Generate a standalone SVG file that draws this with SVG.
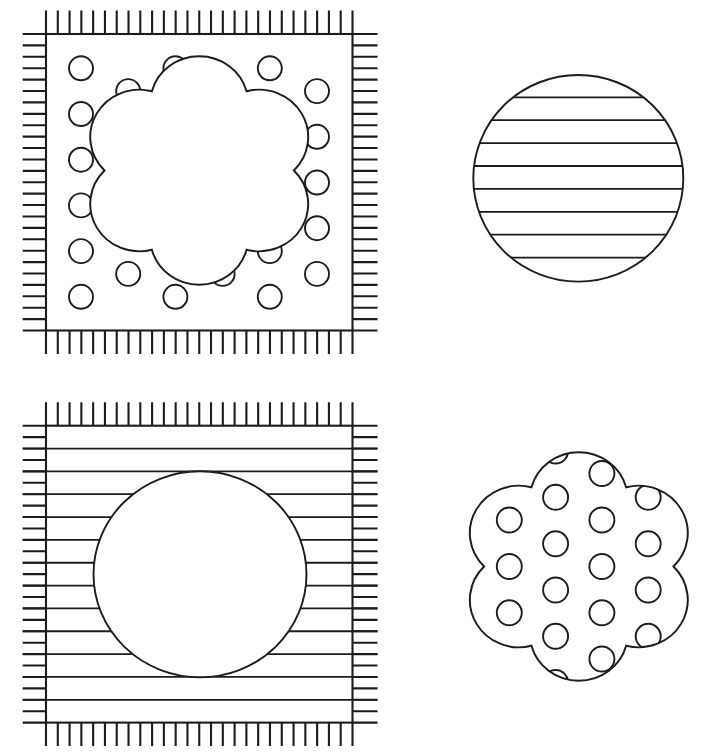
<svg xmlns="http://www.w3.org/2000/svg" xmlns:xlink="http://www.w3.org/1999/xlink" width="720" height="752" viewBox="0 0 720 752">
<style>
.ln{fill:none;stroke:#1c1c1c;stroke-width:2.1}
.sh{fill:#fff;stroke:#1c1c1c;stroke-width:1.9}
.dot{fill:none;stroke:#1c1c1c;stroke-width:1.9}
.hl{fill:none;stroke:#1c1c1c;stroke-width:1.8}
</style>
<defs>
<path id="cloud" d="M-45.75,-79.24A47.4,47.4 0 0 1 45.75,-79.24A47.4,47.4 0 0 1 91.5,0A47.4,47.4 0 0 1 45.75,79.24A47.4,47.4 0 0 1 -45.75,79.24A47.4,47.4 0 0 1 -91.5,0A47.4,47.4 0 0 1 -45.75,-79.24Z"/>
<clipPath id="clipCloud">
<path transform="translate(578.8,566.5) scale(1.035,1)" d="M-45.75,-79.24A47.4,47.4 0 0 1 45.75,-79.24A47.4,47.4 0 0 1 91.5,0A47.4,47.4 0 0 1 45.75,79.24A47.4,47.4 0 0 1 -45.75,79.24A47.4,47.4 0 0 1 -91.5,0A47.4,47.4 0 0 1 -45.75,-79.24Z"/>
</clipPath>
<clipPath id="clipCircle">
<ellipse cx="578.3" cy="178.3" rx="105" ry="103.3"/>
</clipPath>
</defs>
<rect width="720" height="752" fill="#fff"/>

<g id="panel-top-left">
<rect class="ln" x="46" y="34" width="306.5" height="296.5"/>
<path class="ln" d="M46 10.5V34M57.79 10.5V34M69.58 10.5V34M81.36 10.5V34M93.15 10.5V34M104.94 10.5V34M116.73 10.5V34M128.52 10.5V34M140.3 10.5V34M152.09 10.5V34M163.88 10.5V34M175.67 10.5V34M187.46 10.5V34M199.24 10.5V34M211.03 10.5V34M222.82 10.5V34M234.61 10.5V34M246.4 10.5V34M258.18 10.5V34M269.97 10.5V34M281.76 10.5V34M293.55 10.5V34M305.34 10.5V34M317.12 10.5V34M328.91 10.5V34M340.7 10.5V34M352.5 10.5V34"/>
<path class="ln" d="M46 330.5V354M57.79 330.5V354M69.58 330.5V354M81.36 330.5V354M93.15 330.5V354M104.94 330.5V354M116.73 330.5V354M128.52 330.5V354M140.3 330.5V354M152.09 330.5V354M163.88 330.5V354M175.67 330.5V354M187.46 330.5V354M199.24 330.5V354M211.03 330.5V354M222.82 330.5V354M234.61 330.5V354M246.4 330.5V354M258.18 330.5V354M269.97 330.5V354M281.76 330.5V354M293.55 330.5V354M305.34 330.5V354M317.12 330.5V354M328.91 330.5V354M340.7 330.5V354M352.5 330.5V354"/>
<path class="ln" d="M22.7 34H46M22.7 45.4H46M22.7 56.81H46M22.7 68.21H46M22.7 79.62H46M22.7 91.02H46M22.7 102.42H46M22.7 113.83H46M22.7 125.23H46M22.7 136.64H46M22.7 148.04H46M22.7 159.44H46M22.7 170.85H46M22.7 182.25H46M22.7 193.66H46M22.7 205.06H46M22.7 216.46H46M22.7 227.87H46M22.7 239.27H46M22.7 250.68H46M22.7 262.08H46M22.7 273.48H46M22.7 284.89H46M22.7 296.29H46M22.7 307.7H46M22.7 319.1H46M22.7 330.5H46"/>
<path class="ln" d="M352.5 34H377.5M352.5 45.4H377.5M352.5 56.81H377.5M352.5 68.21H377.5M352.5 79.62H377.5M352.5 91.02H377.5M352.5 102.42H377.5M352.5 113.83H377.5M352.5 125.23H377.5M352.5 136.64H377.5M352.5 148.04H377.5M352.5 159.44H377.5M352.5 170.85H377.5M352.5 182.25H377.5M352.5 193.66H377.5M352.5 205.06H377.5M352.5 216.46H377.5M352.5 227.87H377.5M352.5 239.27H377.5M352.5 250.68H377.5M352.5 262.08H377.5M352.5 273.48H377.5M352.5 284.89H377.5M352.5 296.29H377.5M352.5 307.7H377.5M352.5 319.1H377.5M352.5 330.5H377.5"/>
<g id="dots-top-left" class="dot">
<circle cx="81" cy="68.3" r="12"/><circle cx="81" cy="114" r="12"/><circle cx="81" cy="159.7" r="12"/><circle cx="81" cy="205.4" r="12"/><circle cx="81" cy="251.1" r="12"/><circle cx="81" cy="296.8" r="12"/>
<circle cx="128.2" cy="91.1" r="12"/><circle cx="128.2" cy="136.8" r="12"/><circle cx="128.2" cy="182.5" r="12"/><circle cx="128.2" cy="228.2" r="12"/><circle cx="128.2" cy="273.9" r="12"/>
<circle cx="175.4" cy="68.3" r="12"/><circle cx="175.4" cy="296.8" r="12"/>
<circle cx="222.6" cy="273.9" r="12"/>
<circle cx="269.8" cy="68.3" r="12"/><circle cx="269.8" cy="114" r="12"/><circle cx="269.8" cy="205.4" r="12"/><circle cx="269.8" cy="251.1" r="12"/><circle cx="269.8" cy="296.8" r="12"/>
<circle cx="317" cy="91.1" r="12"/><circle cx="317" cy="136.8" r="12"/><circle cx="317" cy="182.5" r="12"/><circle cx="317" cy="228.2" r="12"/><circle cx="317" cy="273.9" r="12"/>
</g>
<use xlink:href="#cloud" href="#cloud" class="sh" vector-effect="non-scaling-stroke" transform="translate(199.2,170.5) scale(1.035,1)"/>
</g>

<g id="panel-top-right">
<g clip-path="url(#clipCircle)" class="hl">
<path d="M470,97.3H690M470,120.2H690M470,143.1H690M470,166H690M470,188.9H690M470,211.8H690M470,234.7H690M470,257.6H690"/>
</g>
<ellipse class="dot" cx="578.3" cy="178.3" rx="105" ry="103.3"/>
</g>

<g id="panel-bottom-left">
<path class="hl" d="M22.7,448.54H377.5M22.7,471.38H377.5M22.7,494.22H377.5M22.7,517.06H377.5M22.7,539.9H377.5M22.7,562.74H377.5M22.7,585.58H377.5M22.7,608.42H377.5M22.7,631.26H377.5M22.7,654.1H377.5M22.7,676.94H377.5M22.7,699.78H377.5"/>
<rect class="ln" x="46" y="425.7" width="306.5" height="296.9"/>
<path class="ln" d="M46 402.3V425.7M57.79 402.3V425.7M69.58 402.3V425.7M81.36 402.3V425.7M93.15 402.3V425.7M104.94 402.3V425.7M116.73 402.3V425.7M128.52 402.3V425.7M140.3 402.3V425.7M152.09 402.3V425.7M163.88 402.3V425.7M175.67 402.3V425.7M187.46 402.3V425.7M199.24 402.3V425.7M211.03 402.3V425.7M222.82 402.3V425.7M234.61 402.3V425.7M246.4 402.3V425.7M258.18 402.3V425.7M269.97 402.3V425.7M281.76 402.3V425.7M293.55 402.3V425.7M305.34 402.3V425.7M317.12 402.3V425.7M328.91 402.3V425.7M340.7 402.3V425.7M352.5 402.3V425.7"/>
<path class="ln" d="M46 722.6V746M57.79 722.6V746M69.58 722.6V746M81.36 722.6V746M93.15 722.6V746M104.94 722.6V746M116.73 722.6V746M128.52 722.6V746M140.3 722.6V746M152.09 722.6V746M163.88 722.6V746M175.67 722.6V746M187.46 722.6V746M199.24 722.6V746M211.03 722.6V746M222.82 722.6V746M234.61 722.6V746M246.4 722.6V746M258.18 722.6V746M269.97 722.6V746M281.76 722.6V746M293.55 722.6V746M305.34 722.6V746M317.12 722.6V746M328.91 722.6V746M340.7 722.6V746M352.5 722.6V746"/>
<path class="ln" d="M22.7 425.7H46M22.7 437.12H46M22.7 448.54H46M22.7 459.96H46M22.7 471.38H46M22.7 482.8H46M22.7 494.22H46M22.7 505.64H46M22.7 517.06H46M22.7 528.48H46M22.7 539.9H46M22.7 551.32H46M22.7 562.74H46M22.7 574.16H46M22.7 585.58H46M22.7 597H46M22.7 608.42H46M22.7 619.84H46M22.7 631.26H46M22.7 642.68H46M22.7 654.1H46M22.7 665.52H46M22.7 676.94H46M22.7 688.36H46M22.7 699.78H46M22.7 711.2H46M22.7 722.6H46"/>
<path class="ln" d="M352.5 425.7H377.5M352.5 437.12H377.5M352.5 448.54H377.5M352.5 459.96H377.5M352.5 471.38H377.5M352.5 482.8H377.5M352.5 494.22H377.5M352.5 505.64H377.5M352.5 517.06H377.5M352.5 528.48H377.5M352.5 539.9H377.5M352.5 551.32H377.5M352.5 562.74H377.5M352.5 574.16H377.5M352.5 585.58H377.5M352.5 597H377.5M352.5 608.42H377.5M352.5 619.84H377.5M352.5 631.26H377.5M352.5 642.68H377.5M352.5 654.1H377.5M352.5 665.52H377.5M352.5 676.94H377.5M352.5 688.36H377.5M352.5 699.78H377.5M352.5 711.2H377.5M352.5 722.6H377.5"/>
<ellipse class="sh" cx="200" cy="574.3" rx="106.5" ry="103"/>
</g>

<g id="panel-bottom-right">
<use xlink:href="#cloud" href="#cloud" class="sh" vector-effect="non-scaling-stroke" transform="translate(578.8,566.5) scale(1.035,1)"/>
<g id="dots-bottom-right" class="dot" clip-path="url(#clipCloud)">
<circle cx="509.3" cy="520" r="12.5"/><circle cx="509.3" cy="566.5" r="12.5"/><circle cx="509.3" cy="612.8" r="12.5"/>
<circle cx="555.6" cy="451" r="12.5"/><circle cx="555.6" cy="497.3" r="12.5"/><circle cx="555.6" cy="543.8" r="12.5"/><circle cx="555.6" cy="590" r="12.5"/><circle cx="555.6" cy="636.3" r="12.5"/><circle cx="555.6" cy="682.5" r="12.5"/>
<circle cx="601.9" cy="473.5" r="12.5"/><circle cx="601.9" cy="520" r="12.5"/><circle cx="601.9" cy="566.5" r="12.5"/><circle cx="601.9" cy="612.8" r="12.5"/><circle cx="601.9" cy="659" r="12.5"/>
<circle cx="648.2" cy="497.3" r="12.5"/><circle cx="648.2" cy="543.8" r="12.5"/><circle cx="648.2" cy="590" r="12.5"/><circle cx="648.2" cy="636.3" r="12.5"/>
</g>
</g>
</svg>
